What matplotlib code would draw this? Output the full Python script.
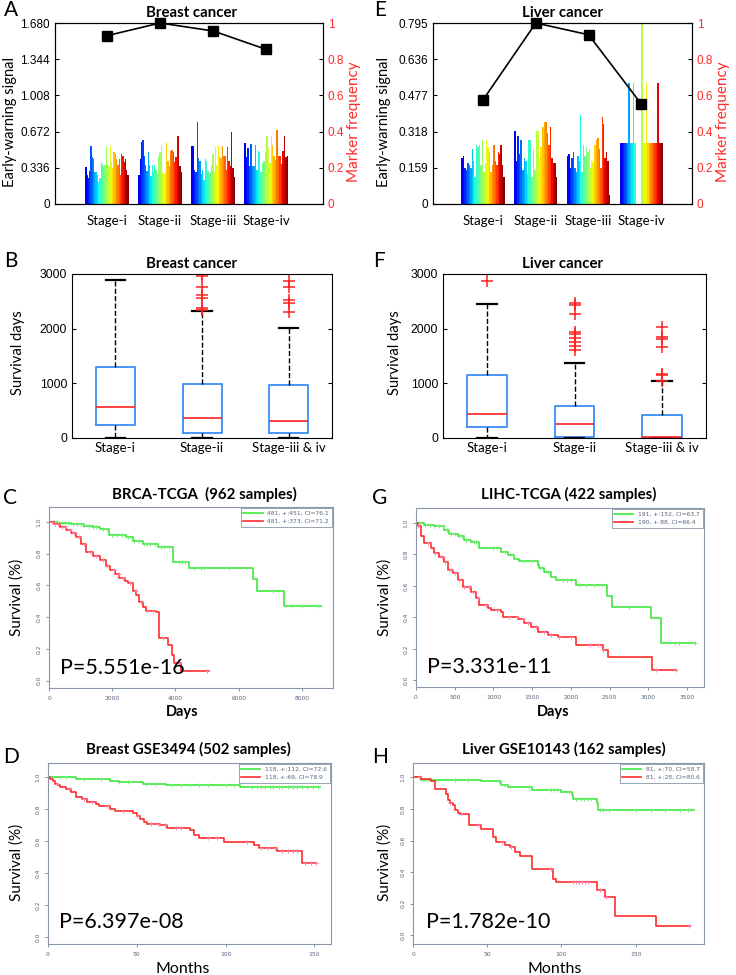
import matplotlib
matplotlib.use('Agg')
import matplotlib.pyplot as plt
import numpy as np

plt.rcParams['font.family'] = ['Lato', 'DejaVu Sans']

W, H = 736, 975

# ---------------- data ----------------
stages = ['Stage-i', 'Stage-ii', 'Stage-iii', 'Stage-iv']
box_stages = ['Stage-i', 'Stage-ii', 'Stage-iii & iv']

breast_ticks = [0, 0.336, 0.672, 1.008, 1.344, 1.680]
liver_ticks = [0, 0.159, 0.318, 0.477, 0.636, 0.795]
freq_ticks = [0, 0.2, 0.4, 0.6, 0.8, 1]
freq_labels = ['0', '0.2', '0.4', '0.6', '0.8', '1']

breast_freq = [0.93, 1.0, 0.956, 0.854]
liver_freq = [0.576, 1.0, 0.935, 0.552]

breast_bars = [
    [0.34, 0.27, 0.24, 0.31, 0.54, 0.44, 0.42, 0.30, 0.30, 0.27, 0.20, 0.24, 0.38, 0.37, 0.35, 0.36, 0.53,
     0.37, 0.35, 0.54, 0.39, 0.33, 0.48, 0.46, 0.42, 0.36, 0.42, 0.27, 0.46, 0.45, 0.39, 0.42, 0.32, 0.27],
    [0.27, 0.42, 0.58, 0.59, 0.45, 0.36, 0.31, 0.48, 0.36, 0.26, 0.36, 0.30, 0.36, 0.32, 0.28, 0.45, 0.48,
     0.54, 0.30, 0.28, 0.30, 0.57, 0.40, 0.35, 0.49, 0.50, 0.48, 0.39, 0.44, 0.63, 0.63, 0.35, 0.30],
    [0.54, 0.54, 0.32, 0.30, 0.76, 0.43, 0.40, 0.28, 0.32, 0.22, 0.42, 0.40, 0.31, 0.28, 0.30, 0.36, 0.46,
     0.30, 0.53, 0.36, 0.54, 0.45, 0.43, 0.54, 0.45, 0.45, 0.32, 0.53, 0.40, 0.35, 0.67, 0.33, 0.25],
    [0.57, 0.44, 0.52, 0.35, 0.56, 0.35, 0.35, 0.55, 0.32, 0.49, 0.48, 0.30, 0.38, 0.40, 0.48, 0.63, 0.52,
     0.38, 0.63, 0.55, 0.45, 0.41, 0.69, 0.45, 0.45, 0.37, 0.49, 0.63, 0.44, 0.45],
]
liver_bars = [
    [0.20, 0.21, 0.16, 0.15, 0.18, 0.17, 0.16, 0.24, 0.19, 0.12, 0.26, 0.25, 0.26, 0.17, 0.28, 0.14, 0.18,
     0.28, 0.25, 0.23, 0.14, 0.17, 0.26, 0.19, 0.17, 0.23, 0.22, 0.26, 0.17, 0.12],
    [0.32, 0.19, 0.30, 0.22, 0.28, 0.15, 0.20, 0.19, 0.13, 0.28, 0.28, 0.12, 0.24, 0.15, 0.32, 0.32, 0.20,
     0.25, 0.34, 0.36, 0.36, 0.31, 0.26, 0.34, 0.20, 0.18, 0.18, 0.12],
    [0.21, 0.22, 0.16, 0.20, 0.23, 0.16, 0.14, 0.21, 0.19, 0.39, 0.14, 0.26, 0.21, 0.25, 0.23, 0.24, 0.16,
     0.19, 0.18, 0.26, 0.28, 0.29, 0.24, 0.16, 0.38, 0.35, 0.20, 0.23, 0.19, 0.04],
    [0.27, 0.27, 0.27, 0.27, 0.27, 0.27, 0.53, 0.27, 0.27, 0.53, 0.27, 0.0, 0.0, 0.0, 0.0, 0.795, 0.27,
     0.27, 0.53, 0.27, 0.27, 0.27, 0.27, 0.27, 0.27, 0.27, 0.53, 0.27, 0.27, 0.27],
]

# box plot summaries (survival days)
breast_med = [569, 367, 306]
breast_q1 = [233, 98, 98]
breast_q3 = [1292, 986, 967]
breast_lo = [0, 0, 0]
breast_hi = [2890, 2320, 2020]
breast_out = [[], [2340, 2370, 2560, 2620, 2770, 2960, 3000], [2314, 2467, 2529, 2755, 2865]]

liver_med = [435, 263, 24]
liver_q1 = [196, 24, 6]
liver_q3 = [1151, 588, 416]
liver_lo = [0, 0, 0]
liver_hi = [2455, 1378, 1047]
liver_out = [[2878], [1610, 1684, 1763, 1824, 1898, 1947, 2271, 2437, 2467],
             [1040, 1151, 1175, 1659, 1812, 1843, 2039]]

# Kaplan-Meier curves (time, survival) + censor times
brca_g_t = [0, 300, 700, 1100, 1400, 1600, 1900, 2200, 2440, 2650, 2970, 3440, 3915, 4440, 6440, 6570, 7440, 8600]
brca_g_s = [1.0, 0.995, 0.985, 0.975, 0.965, 0.958, 0.92, 0.915, 0.906, 0.88, 0.864, 0.84, 0.75, 0.707, 0.64,
            0.567, 0.473, 0.473]
brca_r_t = [0, 150, 340, 550, 700, 860, 1000, 1180, 1400, 1600, 1800, 1920, 2100, 2230, 2400, 2500, 2650, 2760,
            2860, 2960, 3070, 3390, 3470, 3760, 3900, 3970, 4180, 5050]
brca_r_s = [1.0, 0.99, 0.97, 0.95, 0.93, 0.906, 0.86, 0.81, 0.785, 0.76, 0.72, 0.697, 0.67, 0.644, 0.625, 0.613,
            0.565, 0.54, 0.498, 0.465, 0.44, 0.435, 0.272, 0.226, 0.163, 0.111, 0.059, 0.059]
brca_g_c = [150, 250, 400, 500, 600, 750, 900, 1000, 1100, 1250, 1400, 1500, 1700, 1850, 2000, 2150, 2300, 2500,
            2700, 2850, 3000, 3100, 3200, 3350, 3550, 3650, 3800, 4100, 4200, 4300, 4600, 4800, 4900, 5700, 7100,
            7700, 8000, 8500]
brca_r_c = [100, 200, 300, 400, 500, 650, 800, 950, 1100, 1300, 1500, 1700, 1850, 2050, 2200, 2350, 2550, 2750,
            2900, 3100, 3300, 3600, 4100, 5000]

lihc_g_t = [0, 100, 237, 366, 431, 539, 625, 711, 819, 1099, 1185, 1272, 1336, 1573, 1595, 1659, 1746, 1810,
            2069, 2470, 2530, 3039, 3168, 3600]
lihc_g_s = [1.0, 0.99, 0.979, 0.954, 0.932, 0.916, 0.89, 0.88, 0.842, 0.816, 0.795, 0.774, 0.757, 0.732, 0.711,
            0.686, 0.658, 0.637, 0.605, 0.536, 0.468, 0.394, 0.236, 0.236]
lihc_r_t = [0, 22, 65, 108, 194, 237, 302, 366, 410, 474, 539, 603, 711, 776, 819, 927, 970, 1099, 1120, 1315,
            1401, 1487, 1573, 1703, 1832, 2069, 2414, 2478, 3047, 3362]
lihc_r_s = [1.0, 0.98, 0.92, 0.87, 0.84, 0.81, 0.785, 0.753, 0.70, 0.68, 0.637, 0.595, 0.563, 0.521, 0.479, 0.458,
            0.447, 0.437, 0.405, 0.39, 0.363, 0.342, 0.31, 0.289, 0.278, 0.226, 0.194, 0.148, 0.068, 0.068]
lihc_g_c = [50, 120, 180, 250, 300, 350, 400, 450, 500, 560, 600, 650, 700, 750, 780, 1000, 1150, 1250, 1400,
            1500, 1600, 1700, 1900, 1950, 2000, 2100, 2200, 2300, 2400, 2750, 3350, 3400, 3600]
lihc_r_c = [30, 150, 250, 330, 380, 420, 450, 500, 560, 620, 680, 740, 800, 900, 1050, 1200, 1300, 1380, 1450,
            1550, 1650, 1750, 1850, 2000, 2250, 2350, 2420, 3100, 3360]

gse3494_g_t = [0, 16, 35, 40, 53.6, 66.7, 108, 153]
gse3494_g_s = [1.0, 0.99, 0.98, 0.97, 0.96, 0.95, 0.94, 0.94]
gse3494_r_t = [0, 1, 3, 4, 5.6, 7, 10, 13, 16, 19, 22, 27, 29, 35, 38, 48, 50, 52, 54, 56, 63, 67, 80, 82, 85,
               99, 116, 119, 129, 143, 151]
gse3494_r_s = [1.0, 0.99, 0.98, 0.96, 0.95, 0.94, 0.93, 0.91, 0.88, 0.865, 0.846, 0.83, 0.82, 0.80, 0.787, 0.777,
               0.756, 0.74, 0.72, 0.71, 0.70, 0.68, 0.67, 0.64, 0.62, 0.595, 0.578, 0.56, 0.54, 0.463, 0.463]
gse3494_g_c = [10, 20, 30, 40, 45, 55, 60, 70, 75, 80, 85, 90, 100, 105, 115, 118, 120, 122, 125, 127, 130, 132,
               135, 138, 140, 143, 146, 149, 152]
gse3494_r_c = [5, 12, 20, 25, 33, 42, 50, 58, 62, 66, 72, 75, 90, 95, 112, 120, 124, 128, 132, 135, 138, 140,
               145, 148, 151]

gse10143_g_t = [0, 5.6, 46, 59.6, 64, 80, 100, 107, 108, 123.6, 124.7, 189]
gse10143_g_s = [1.0, 0.985, 0.975, 0.954, 0.937, 0.922, 0.907, 0.89, 0.865, 0.838, 0.795, 0.795]
gse10143_r_t = [0, 5.6, 12.4, 14.6, 22.5, 23.6, 24.7, 27, 28.5, 30, 31.5, 38, 46, 54, 56, 62, 65, 68.5, 72, 80,
                94, 96.6, 123.6, 129, 136, 164, 186.5]
gse10143_r_s = [1.0, 0.99, 0.975, 0.928, 0.895, 0.859, 0.838, 0.827, 0.795, 0.774, 0.77, 0.70, 0.673, 0.62, 0.59,
                0.574, 0.557, 0.527, 0.5, 0.422, 0.359, 0.338, 0.289, 0.24, 0.12, 0.057, 0.057]
gse10143_g_c = [10, 28, 37, 58, 62, 78, 93, 95, 97, 105, 110, 113, 115, 118, 120, 126, 128, 132, 150, 160, 170,
                180, 185]
gse10143_r_c = [4, 25, 32, 44, 60, 66, 93, 108, 110, 112, 114, 116, 118, 126, 130, 186]

fig = plt.figure(figsize=(7.36, 9.75), dpi=100)


def axes_px(left, top, right, bottom):
    return fig.add_axes([left / W, 1 - bottom / H, (right - left) / W, (bottom - top) / H])


def text_px(x, y, s, ha='center', va='center', **kw):
    fig.text(x / W, 1 - y / H, s, ha=ha, va=va, **kw)


def signal_panel(box, bars, freq, ticks, xlim):
    ax = axes_px(*box)
    pos = np.arange(1, len(bars) + 1)
    for p, vals in zip(pos, bars):
        n = len(vals)
        w = 0.82 / n
        xs = p - 0.41 + w * (np.arange(n) + 0.5)
        ax.bar(xs, vals, width=w, color=plt.cm.jet(np.linspace(0.1, 1, n)), linewidth=0)
    ax.set_xlim(*xlim)
    ax.set_ylim(0, ticks[-1])
    ax.set_yticks(ticks, ['0'] + ['%.3f' % t for t in ticks[1:]])
    ax.set_xticks(pos, stages)
    ax.tick_params(axis='y', direction='in', length=3, labelsize=8.5, labelfontfamily='Liberation Sans')
    ax.tick_params(axis='x', length=0, pad=8, labelsize=9.5)
    ax2 = ax.twinx()
    ax2.plot(pos, freq, color='k', marker='s', ms=7, lw=1.2, clip_on=False, zorder=5)
    ax2.set_ylim(0, 1)
    ax2.set_yticks(freq_ticks, freq_labels)
    ax2.tick_params(direction='in', length=3, labelsize=8.5, labelcolor='#ff2a2a',
                    labelfontfamily='Liberation Sans')
    return ax


def box_panel(box, med, q1, q3, lo, hi, out):
    ax = axes_px(*box)
    stats = [dict(med=m, q1=a, q3=b, whislo=l, whishi=h, fliers=f)
             for m, a, b, l, h, f in zip(med, q1, q3, lo, hi, out)]
    ax.bxp(stats, positions=[1, 2, 3], widths=0.45, showfliers=True,
           boxprops=dict(color='#3a8ef6', lw=1.3),
           medianprops=dict(color='#ff2020', lw=1.2),
           whiskerprops=dict(color='k', ls='--', lw=1),
           capprops=dict(color='k', lw=1.6),
           flierprops=dict(marker='+', markeredgecolor='#ff2020', ms=8, mew=1.1, ls='none'))
    ax.set_xlim(0.5, 3.5)
    ax.set_ylim(0, 3000)
    ax.set_yticks([0, 1000, 2000, 3000])
    ax.set_xticks([1, 2, 3], box_stages)
    ax.tick_params(axis='y', direction='in', length=3, right=True, labelsize=8.7,
                   labelfontfamily='Liberation Sans')
    ax.tick_params(axis='x', length=0, pad=3, labelsize=9.5)
    return ax


def km_panel(box, green, red, cens_g, cens_r, legend, xlim, ylim, xticks):
    ax = axes_px(*box)
    for (t, s), cens, col, mcol, lab in [(green, cens_g, '#3ee83e', '#6fee6f', legend[0]),
                                         (red, cens_r, '#ff2b2b', '#ff7fa8', legend[1])]:
        t = np.asarray(t, float)
        s = np.asarray(s, float)
        ax.step(t, s, where='post', color=col, lw=1.2, label=lab)
        c = np.asarray(cens, float)
        ax.plot(c, s[np.searchsorted(t, c, side='right') - 1], ls='none', marker='+', ms=3.5, mew=0.7,
                color=mcol)
    ax.set_xlim(*xlim)
    ax.set_ylim(*ylim)
    ax.set_xticks(xticks)
    ax.set_yticks([0, 0.2, 0.4, 0.6, 0.8, 1.0], ['0.0', '0.2', '0.4', '0.6', '0.8', '1.0'])
    for lbl in ax.get_yticklabels():
        lbl.set_rotation(90)
        lbl.set_va('center')
    ax.tick_params(labelsize=4.3, colors='#55647a', length=2.5, width=0.5, pad=3,
                   labelfontfamily='DejaVu Sans')
    for sp in ax.spines.values():
        sp.set_color('#8a97a8')
        sp.set_linewidth(0.8)
    leg = ax.legend(loc='upper right', fancybox=False, edgecolor='#6a7a90',
                    borderaxespad=0.25, handlelength=3.2, prop={'family': 'DejaVu Sans', 'size': 4.3})
    leg.get_frame().set_linewidth(0.6)
    for txt in leg.get_texts():
        txt.set_color('#55647a')
    return ax


# ---------------- panels ----------------
signal_panel((55, 23, 323, 204), breast_bars, breast_freq, breast_ticks, (0.02, 5.07))
signal_panel((433, 23, 692, 204), liver_bars, liver_freq, liver_ticks, (0.05, 4.96))

box_panel((72, 274, 332, 438), breast_med, breast_q1, breast_q3, breast_lo, breast_hi, breast_out)
box_panel((443, 274, 706, 438), liver_med, liver_q1, liver_q3, liver_lo, liver_hi, liver_out)

km_panel((49, 507, 333, 688), (brca_g_t, brca_g_s), (brca_r_t, brca_r_s), brca_g_c, brca_r_c,
         ['481, +:451, CI=76.1', '481, +:373, CI=71.2'], (0, 8985), (-0.046, 1.094),
         [0, 2000, 4000, 6000, 8000])
km_panel((416, 508, 704, 687), (lihc_g_t, lihc_g_s), (lihc_r_t, lihc_r_s), lihc_g_c, lihc_r_c,
         ['191, +:152, CI=63.7', '190, +:88, CI=66.4'], (0, 3720), (-0.042, 1.095),
         [0, 500, 1000, 1500, 2000, 2500, 3000, 3500])
km_panel((48, 763, 331, 944), (gse3494_g_t, gse3494_g_s), (gse3494_r_t, gse3494_r_s), gse3494_g_c, gse3494_r_c,
         ['118, +:112, CI=72.6', '118, +:69, CI=78.9'], (0, 159.4), (-0.044, 1.09), [0, 50, 100, 150])
km_panel((413, 763, 704, 944), (gse10143_g_t, gse10143_g_s), (gse10143_r_t, gse10143_r_s), gse10143_g_c,
         gse10143_r_c, ['81, +:70, CI=58.7', '81, +:28, CI=80.6'], (0, 196), (-0.055, 1.091), [0, 50, 100, 150])

# ---------------- texts ----------------
for letter, x, y in [('A', 11, 10), ('E', 380, 10), ('B', 11, 261), ('F', 379, 261),
                     ('C', 10, 498), ('G', 380, 498), ('D', 11, 757), ('H', 380, 757)]:
    text_px(x, y, letter, fontsize=15)

for title, x, y in [('Breast cancer', 192, 13), ('Liver cancer', 563, 13),
                    ('Breast cancer', 192, 264), ('Liver cancer', 563, 264),
                    ('BRCA-TCGA  (962 samples)', 204, 494), ('LIHC-TCGA (422 samples)', 569, 494),
                    ('Breast GSE3494 (502 samples)', 188, 749), ('Liver GSE10143 (162 samples)', 564, 749)]:
    text_px(x, y, title, fontsize=10.8, fontweight='bold')

text_px(10, 122, 'Early-warning signal', rotation=90, fontsize=10.5)
text_px(384, 122, 'Early-warning signal', rotation=90, fontsize=10.5)
text_px(354, 122, 'Marker frequency', rotation=90, fontsize=11, color='#ff2a2a')
text_px(723, 122, 'Marker frequency', rotation=90, fontsize=11, color='#ff2a2a')
text_px(18, 353, 'Survival days', rotation=90, fontsize=10.6)
text_px(395, 353, 'Survival days', rotation=90, fontsize=10.6)
for x, y in [(17, 597), (385, 597), (17, 862), (385, 862)]:
    text_px(x, y, 'Survival (%)', rotation=90, fontsize=11)
text_px(182, 712, 'Days', fontsize=10.5, fontweight='bold')
text_px(553, 712, 'Days', fontsize=10.5, fontweight='bold')
text_px(183, 969, 'Months', fontsize=11.5)
text_px(555, 969, 'Months', fontsize=11.5)

for p, x, y in [('P=5.551e-16', 60, 668), ('P=3.331e-11', 427, 667),
                ('P=6.397e-08', 59, 922), ('P=1.782e-10', 426, 922)]:
    text_px(x, y, p, ha='left', fontsize=15.5)

fig.savefig('out.png', dpi=100)
